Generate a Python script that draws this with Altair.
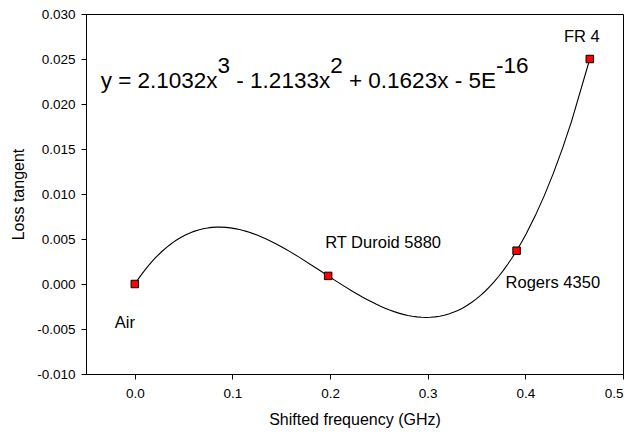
import altair as alt
import pandas as pd

# ---- data ----
materials = ["Air", "RT Duroid 5880", "Rogers 4350", "FR 4"]
shift_ghz = [0.0, 0.198, 0.391, 0.466]
loss_tangent = [0.0, 0.0009, 0.0037, 0.025]

x_ticks = [0.0, 0.1, 0.2, 0.3, 0.4, 0.5]
y_ticks = [-0.010, -0.005, 0.0, 0.005, 0.010, 0.015, 0.020, 0.025, 0.030]

# equation pieces (text, is_superscript)
eq_parts = [("y = 2.1032x", False), ("3", True), (" - 1.2133x", False), ("2", True),
            (" + 0.1623x", False), (" - 5E", False), ("-16", True)]
eq_anchor_x = [-0.035]
eq_anchor_y = [0.02183]

df = pd.DataFrame({"material": materials, "x": shift_ghz, "y": loss_tangent})

FONT = "Liberation Sans, Arial, Helvetica, sans-serif"
EQ_SIZE = 22.5
LBL_SIZE = 16.5

xs = alt.Scale(domain=[-0.05, 0.5], nice=False, zero=False)
ys = alt.Scale(domain=[-0.010, 0.030], nice=False, zero=False)

X = alt.X("x:Q", scale=xs,
          axis=alt.Axis(values=x_ticks, format=".1f", title="Shifted frequency (GHz)",
                        grid=False, tickSize=5, labelPadding=7, titlePadding=12))
Y = alt.Y("y:Q", scale=ys,
          axis=alt.Axis(values=y_ticks, grid=False, tickSize=5, labelPadding=6, titlePadding=10,
                        title="Loss tangent",
                        labelExpr="datum.value < -1e-9 ? '-' + format(-datum.value, '.3f') : format(abs(datum.value), '.3f')"))

base = alt.Chart(df)

curve = base.transform_regression("x", "y", method="poly", order=3).mark_line(
    color="black", strokeWidth=1.1).encode(x=X, y=Y)

pts = base.mark_square(size=56, color="#ff0000", fill="#ff0000", stroke="black",
                       strokeWidth=1, opacity=1).encode(x=X, y=Y)

label_offsets = {
    "Air": ("center", -10, 44),
    "RT Duroid 5880": ("left", -3, -28),
    "Rogers 4350": ("left", -11, 37),
    "FR 4": ("center", -8, -17),
}
labels = []
for name in materials:
    al, ddx, ddy = label_offsets[name]
    labels.append(
        base.transform_filter(alt.datum.material == name).mark_text(
            font=FONT, fontSize=LBL_SIZE, align=al, baseline="alphabetic",
            dx=ddx, dy=ddy, color="black").encode(x=X, y=Y, text="material:N"))

# Arial advance widths (per em) to lay out the equation pieces side by side
adv = {" ": 0.278, "-": 0.333, "+": 0.584, "=": 0.584, ".": 0.278, "x": 0.5,
       "y": 0.5, "E": 0.667}
def width(s):
    return sum(adv.get(c, 0.556) for c in s) * EQ_SIZE

eq_df = pd.DataFrame({"x": eq_anchor_x, "y": eq_anchor_y})
eq_layers = []
offset = 0.0
for txt, sup in eq_parts:
    stripped = txt.lstrip(" ")
    lead = width(txt[: len(txt) - len(stripped)])
    eq_layers.append(
        alt.Chart(eq_df).mark_text(
            text=stripped, font=FONT, fontSize=EQ_SIZE, align="left", baseline="alphabetic",
            dx=offset + lead, dy=-15 if sup else 0, color="black").encode(x=X, y=Y))
    offset += width(txt)

chart = alt.layer(curve, pts, *labels, *eq_layers).properties(
    width=537, height=360,
    background="white",
    autosize=alt.AutoSizeParams(type="none"),
    padding={"left": 78, "top": 6, "right": 1, "bottom": 62},
).configure_view(stroke="black", strokeWidth=1).configure_axis(
    labelFont=FONT, titleFont=FONT, labelFontSize=13.5, titleFontSize=16,
    titleFontWeight="normal", labelColor="black", titleColor="black",
    domainColor="black", tickColor="black", domainWidth=1, tickWidth=1,
)

chart.save("out.html", embed_options={"renderer": "svg", "actions": False})
